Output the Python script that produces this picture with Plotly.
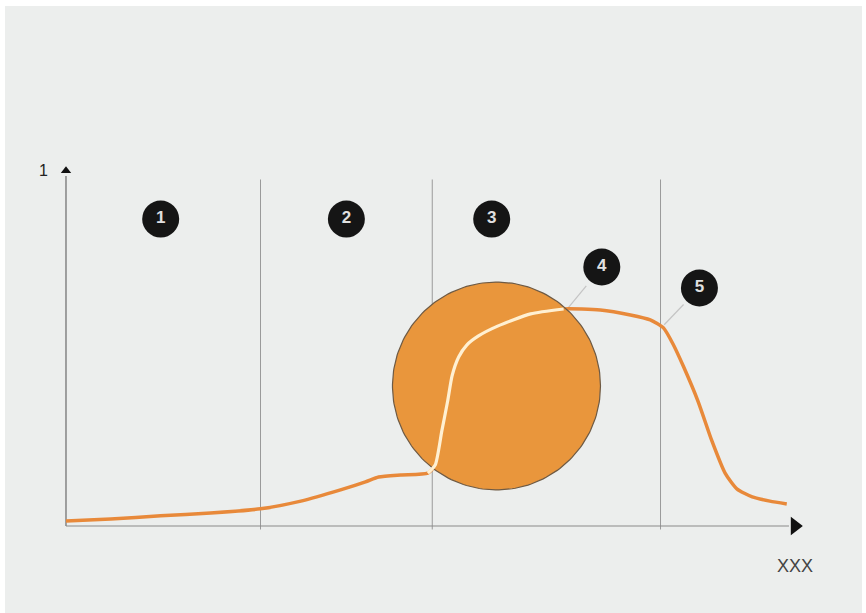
import plotly.graph_objects as go
import numpy as np

# Curve (time axis 0..10, response 0..1)
curve_x = [0, 0.61, 1.29, 1.97, 2.65, 3.20, 3.74, 4.08, 4.26, 4.56, 4.93, 5.03, 5.12, 5.20,
           5.26, 5.35, 5.46, 5.62, 5.88, 6.33, 6.78, 7.28, 7.69, 7.96, 8.14, 8.27, 8.41,
           8.61, 8.80, 8.98, 9.14, 9.35, 9.59, 9.82]
curve_y = [0.014, 0.020, 0.029, 0.037, 0.049, 0.071, 0.103, 0.126, 0.140, 0.146, 0.151,
           0.174, 0.271, 0.357, 0.429, 0.483, 0.517, 0.543, 0.571, 0.606, 0.620, 0.617,
           0.603, 0.589, 0.566, 0.520, 0.457, 0.357, 0.243, 0.151, 0.106, 0.083, 0.071, 0.063]
inside_start, inside_end = 10, 20   # portion of the curve inside the highlighted circle

phase_bounds = [2.65, 4.99, 8.10]
callout_labels = ["1", "2", "3", "4", "5"]
callout_x = [1.29, 3.82, 5.80, 7.30, 8.63]
callout_y = [0.877, 0.877, 0.877, 0.740, 0.680]
leader_from_x = [None, None, None, 6.83, 8.15]
leader_from_y = [None, None, None, 0.62, 0.575]

circle_cx, circle_cy = 5.865, 0.40
circle_rx, circle_ry = 1.417, 0.297

y_axis_label = "1"
x_axis_label = "XXX"

fig = go.Figure()
shapes = []

# phase separators
for b in phase_bounds:
    shapes.append(dict(type="line", xref="x", yref="y", x0=b, x1=b, y0=-0.01, y1=0.99,
                       line=dict(color="#9a9a9a", width=1), layer="below"))
# axes
shapes.append(dict(type="line", xref="x", yref="y", x0=0, x1=0, y0=0, y1=1.0,
                   line=dict(color="#6a6a6a", width=1.2), layer="below"))
shapes.append(dict(type="line", xref="x", yref="y", x0=0, x1=9.85, y0=0, y1=0,
                   line=dict(color="#8a8a8a", width=1.2), layer="below"))
# leaders
for fx, fy, cx, cy in zip(leader_from_x, leader_from_y, callout_x, callout_y):
    if fx is not None:
        shapes.append(dict(type="line", xref="x", yref="y", x0=fx, y0=fy,
                           x1=fx + (cx - fx) * 0.55, y1=fy + (cy - fy) * 0.55,
                           line=dict(color="#c4c4c4", width=1.2), layer="below"))

# orange curve
fig.add_trace(go.Scatter(x=curve_x, y=curve_y, mode="lines",
                         line=dict(color="#e8893a", width=3.5, shape="spline", smoothing=0.6),
                         hoverinfo="skip", showlegend=False))

# highlight circle
t = np.linspace(0, 2 * np.pi, 200)
fig.add_trace(go.Scatter(x=circle_cx + circle_rx * np.cos(t), y=circle_cy + circle_ry * np.sin(t),
                         mode="lines", fill="toself", fillcolor="#e9963c",
                         line=dict(color="#6e5a44", width=1.2),
                         hoverinfo="skip", showlegend=False))

# curve portion inside circle
fig.add_trace(go.Scatter(x=curve_x[inside_start:inside_end + 1], y=curve_y[inside_start:inside_end + 1],
                         mode="lines",
                         line=dict(color="#fff0d2", width=3.2, shape="spline", smoothing=0.6),
                         hoverinfo="skip", showlegend=False))

# arrowheads
fig.add_trace(go.Scatter(x=[9.93], y=[0], mode="markers",
                         marker=dict(symbol="triangle-right", size=16, color="#111111"),
                         hoverinfo="skip", showlegend=False))
fig.add_trace(go.Scatter(x=[0], y=[1.015], mode="markers",
                         marker=dict(symbol="triangle-up", size=9, color="#111111"),
                         hoverinfo="skip", showlegend=False))

# callouts
fig.add_trace(go.Scatter(x=callout_x, y=callout_y, mode="markers+text",
                         marker=dict(size=37, color="#151515", line=dict(width=0)),
                         text=["<b>%s</b>" % s for s in callout_labels], textposition="middle center",
                         textfont=dict(color="#e0e0e0", size=17, family="Arial, Liberation Sans"),
                         hoverinfo="skip", showlegend=False))

annotations = [
    dict(x=-0.30, y=1.017, xref="x", yref="y", text=y_axis_label, showarrow=False,
         font=dict(size=16, color="#222222", family="Liberation Sans")),
    dict(x=9.93, y=-0.115, xref="x", yref="y", text=x_axis_label, showarrow=False,
         font=dict(size=18, color="#444444", family="Liberation Sans")),
]

fig.update_layout(
    width=866, height=613,
    margin=dict(l=5, r=4, t=6, b=0),
    paper_bgcolor="#ffffff", plot_bgcolor="#eceeed",
    shapes=shapes, annotations=annotations,
    xaxis=dict(range=[-0.831, 10.845], visible=False, fixedrange=True),
    yaxis=dict(range=[-0.2486, 1.4857], visible=False, fixedrange=True),
)

fig.write_html("out.html", config={"displayModeBar": False},
               post_script="document.body.style.margin='0';document.body.style.overflow='hidden';")
